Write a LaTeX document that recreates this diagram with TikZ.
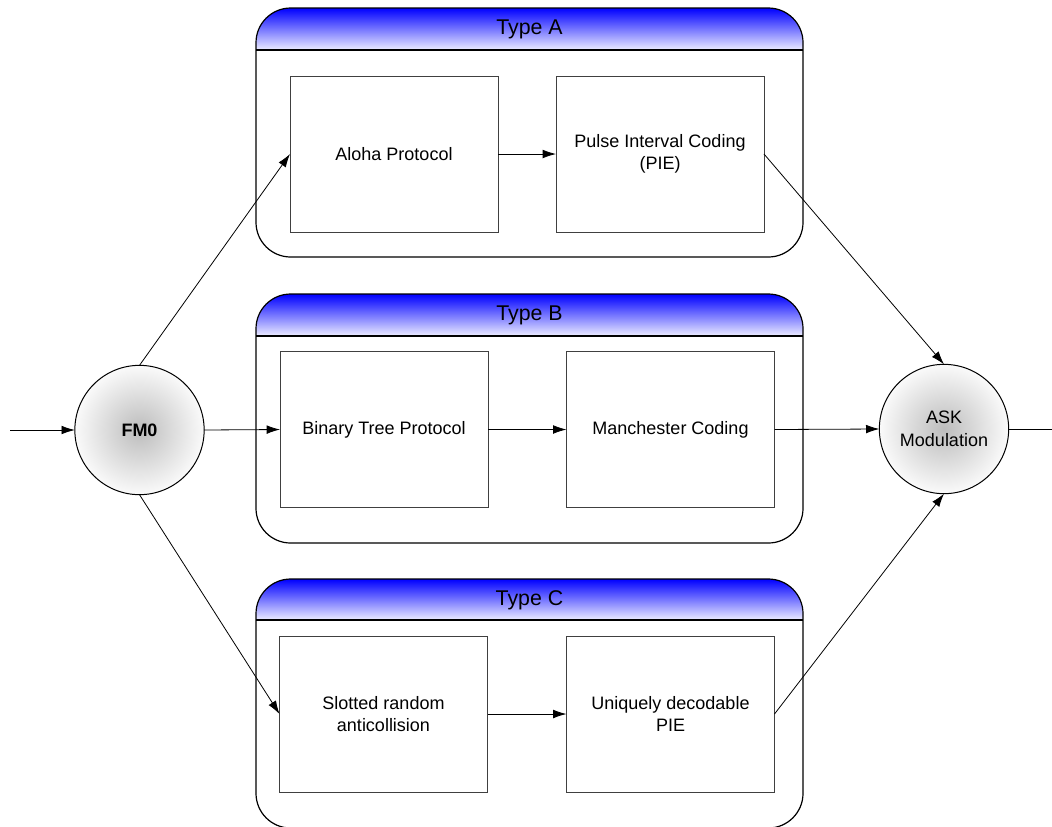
\documentclass[tikz,border=0pt]{standalone}
\usepackage{fontspec}
\setmainfont{Liberation Sans}
\usetikzlibrary{arrows.meta}
\pgfdeclareradialshading{ballg}{\pgfpointorigin}{color(0bp)=(black!26); color(27bp)=(white); color(50bp)=(white)}
\begin{document}
\begin{tikzpicture}[x=0.75pt,y=-0.75pt,
  blk/.style={draw=black!75, line width=0.75pt, fill=white, minimum width=156pt, minimum height=117pt,
    inner sep=0pt, outer sep=0pt, align=center, font=\fontsize{13.5}{17}\selectfont},
  circ/.style={circle, draw=black, line width=0.75pt, shading=ballg, minimum size=97pt,
    inner sep=0pt, outer sep=0pt, align=center, font=\fontsize{13.5}{17}\selectfont},
  hdr/.style={font=\fontsize{16}{19}\selectfont, inner sep=0pt},
  conn/.style={line width=0.6pt, -{Latex[length=10pt,width=6.5pt]}},
  cont/.style={draw=black, line width=0.9pt, rounded corners=26pt},
  hdrfill/.style={top color=blue, bottom color=blue!7, draw=none}]
\useasboundingbox (0,0) rectangle (1052,826);

% containers
\foreach \yt/\yh/\yb in {8/50/257, 294/336/543, 579/620/828}{
  \begin{scope}
    \clip[rounded corners=26pt] (256,\yt) rectangle (803,\yb);
    \shade[hdrfill] (256,\yt) rectangle (803,\yh);
  \end{scope}
  \draw[cont] (256,\yt) rectangle (803,\yb);
  \draw[line width=0.9pt] (256,\yh) -- (803,\yh);
}
\node[hdr] (hdrA) at (529.5,29) {Type A};
\node[hdr] (hdrB) at (529.5,315) {Type B};
\node[hdr] (hdrC) at (529.5,600) {Type C};

% inner boxes
\node[blk] (aloha) at (394,154) {Aloha Protocol};
\node[blk] (pie) at (660,154) {Pulse Interval Coding\\(PIE)};
\node[blk] (bin) at (384,429.5) {Binary Tree Protocol};
\node[blk] (man) at (670.5,429.5) {Manchester Coding};
\node[blk] (slot) at (383.5,714) {Slotted random\\anticollision};
\node[blk] (uniq) at (670.5,714) {Uniquely decodable\\PIE};

% circles
\node[circ] (fm) at (139.5,430) {\textbf{FM0}};
\node[circ] (ask) at (944,429) {ASK\\Modulation};

\coordinate (in) at (10,430);
\coordinate (out) at (1052,429);

% connectors
\draw[conn] (in) -- (fm.west);
\draw[conn] (fm.east) -- (bin.west);
\draw[conn] (fm.north) -- (aloha.west);
\draw[conn] (fm.south) -- (slot.west);
\draw[conn] (aloha.east) -- (pie.west);
\draw[conn] (bin.east) -- (man.west);
\draw[conn] (slot.east) -- (uniq.west);
\draw[conn] (pie.east) -- (ask.north);
\draw[conn] (man.east) -- (ask.west);
\draw[conn] (uniq.east) -- (ask.south);
\draw[line width=0.6pt] (ask.east) -- (out);
\end{tikzpicture}
\end{document}
